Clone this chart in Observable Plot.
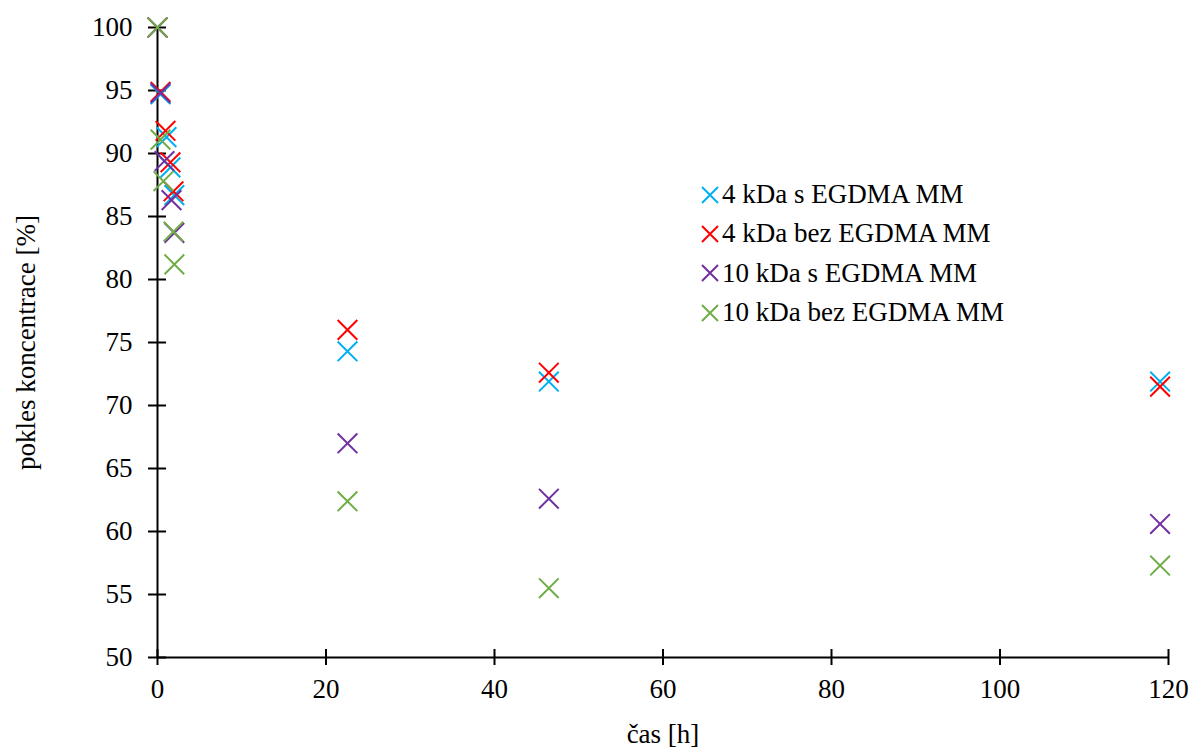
<!DOCTYPE html>
<html><head><meta charset="utf-8">
<script src="https://cdn.jsdelivr.net/npm/d3@7"></script>
<script src="https://cdn.jsdelivr.net/npm/@observablehq/plot@0.6"></script>
<style>
body{margin:0;background:#fff;}
#wrap{position:relative;width:1192px;height:747px;overflow:hidden;font-family:"Liberation Serif","Times New Roman",serif;}
#legend{position:absolute;left:700px;top:175px;font-size:27px;line-height:39.3px;color:#000;}
#legend div{display:flex;align-items:center;white-space:nowrap;}
#legend svg{margin-right:2px;}
</style></head><body>
<div id="wrap"><div id="legend"></div></div>
<script>
const seriesNames = ["4 kDa s EGDMA MM","4 kDa bez EGDMA MM","10 kDa s EGDMA MM","10 kDa bez EGDMA MM"];
const seriesColors = ["#00B0F0","#FF0000","#7030A0","#70AD47"];
const t4s = [0, 0.36, 1.07, 1.54, 2.0, 22.55, 46.45, 119.0];
const v4s = [100, 94.7, 91.3, 88.9, 86.7, 74.3, 71.9, 71.9];
const t4b = [0, 0.36, 0.95, 1.54, 1.9, 22.55, 46.45, 119.0];
const v4b = [100, 94.9, 91.8, 89.3, 87.0, 76.0, 72.6, 71.5];
const t10s = [0, 0.36, 0.83, 1.66, 2.0, 22.55, 46.45, 119.0];
const v10s = [100, 94.8, 89.4, 86.3, 83.7, 67.0, 62.6, 60.6];
const t10b = [0, 0.36, 0.7, 1.9, 2.0, 22.55, 46.45, 119.0];
const v10b = [100, 91.1, 87.8, 83.8, 81.2, 62.4, 55.5, 57.3];
const xTicks = [0, 20, 40, 60, 80, 100, 120];
const yTicks = [50, 55, 60, 65, 70, 75, 80, 85, 90, 95, 100];

const times = [t4s, t4b, t10s, t10b];
const vals = [v4s, v4b, v10s, v10b];
const data = [];
seriesNames.forEach((s, i) => times[i].forEach((t, j) => data.push({series: s, t, v: vals[i][j]})));

const chart = Plot.plot({
  width: 1192, height: 747,
  marginLeft: 157, marginRight: 24, marginTop: 27, marginBottom: 90,
  style: {fontFamily: '"Liberation Serif","Times New Roman",serif', fontSize: "27px", color: "#000", background: "transparent", overflow: "visible"},
  x: {domain: [0, 120]},
  y: {domain: [50, 100]},
  color: {domain: seriesNames, range: seriesColors},
  marks: [
    Plot.ruleX([0], {stroke: "#000", strokeWidth: 2}),
    Plot.ruleY([50], {stroke: "#000", strokeWidth: 2}),
    Plot.axisY(yTicks, {anchor: "left", tickSize: 9, tickPadding: 16, stroke: "#000", strokeWidth: 2, fill: "#000", fontSize: 27, label: null}),
    Plot.axisY(yTicks, {anchor: "left", tickSize: -9, text: null, stroke: "#000", strokeWidth: 2, label: null}),
    Plot.axisX(xTicks, {anchor: "bottom", tickSize: 8, tickPadding: 13, stroke: "#000", strokeWidth: 2, fill: "#000", fontSize: 27, label: null}),
    Plot.axisX(xTicks, {anchor: "bottom", tickSize: -8, text: null, stroke: "#000", strokeWidth: 2, label: null}),
    Plot.text(["pokles koncentrace [%]"], {frameAnchor: "left", textAnchor: "middle", rotate: -90, dx: -131, fontSize: 27, fill: "#000"}),
    Plot.text(["čas [h]"], {frameAnchor: "bottom", dy: 85, fontSize: 27, fill: "#000"}),
    Plot.dot(data, {x: "t", y: "v", stroke: "series", symbol: "times", r: 9, strokeWidth: 2})
  ]
});
const wrap = document.getElementById("wrap");
wrap.insertBefore(chart, wrap.firstChild);

const leg = document.getElementById("legend");
seriesNames.forEach((s, i) => {
  const row = document.createElement("div");
  row.innerHTML = `<svg width="20" height="20" viewBox="0 0 20 20"><path d="M2,2L18,18M18,2L2,18" stroke="${seriesColors[i]}" stroke-width="2"/></svg><span>${s}</span>`;
  leg.appendChild(row);
});
</script>
</body></html>
